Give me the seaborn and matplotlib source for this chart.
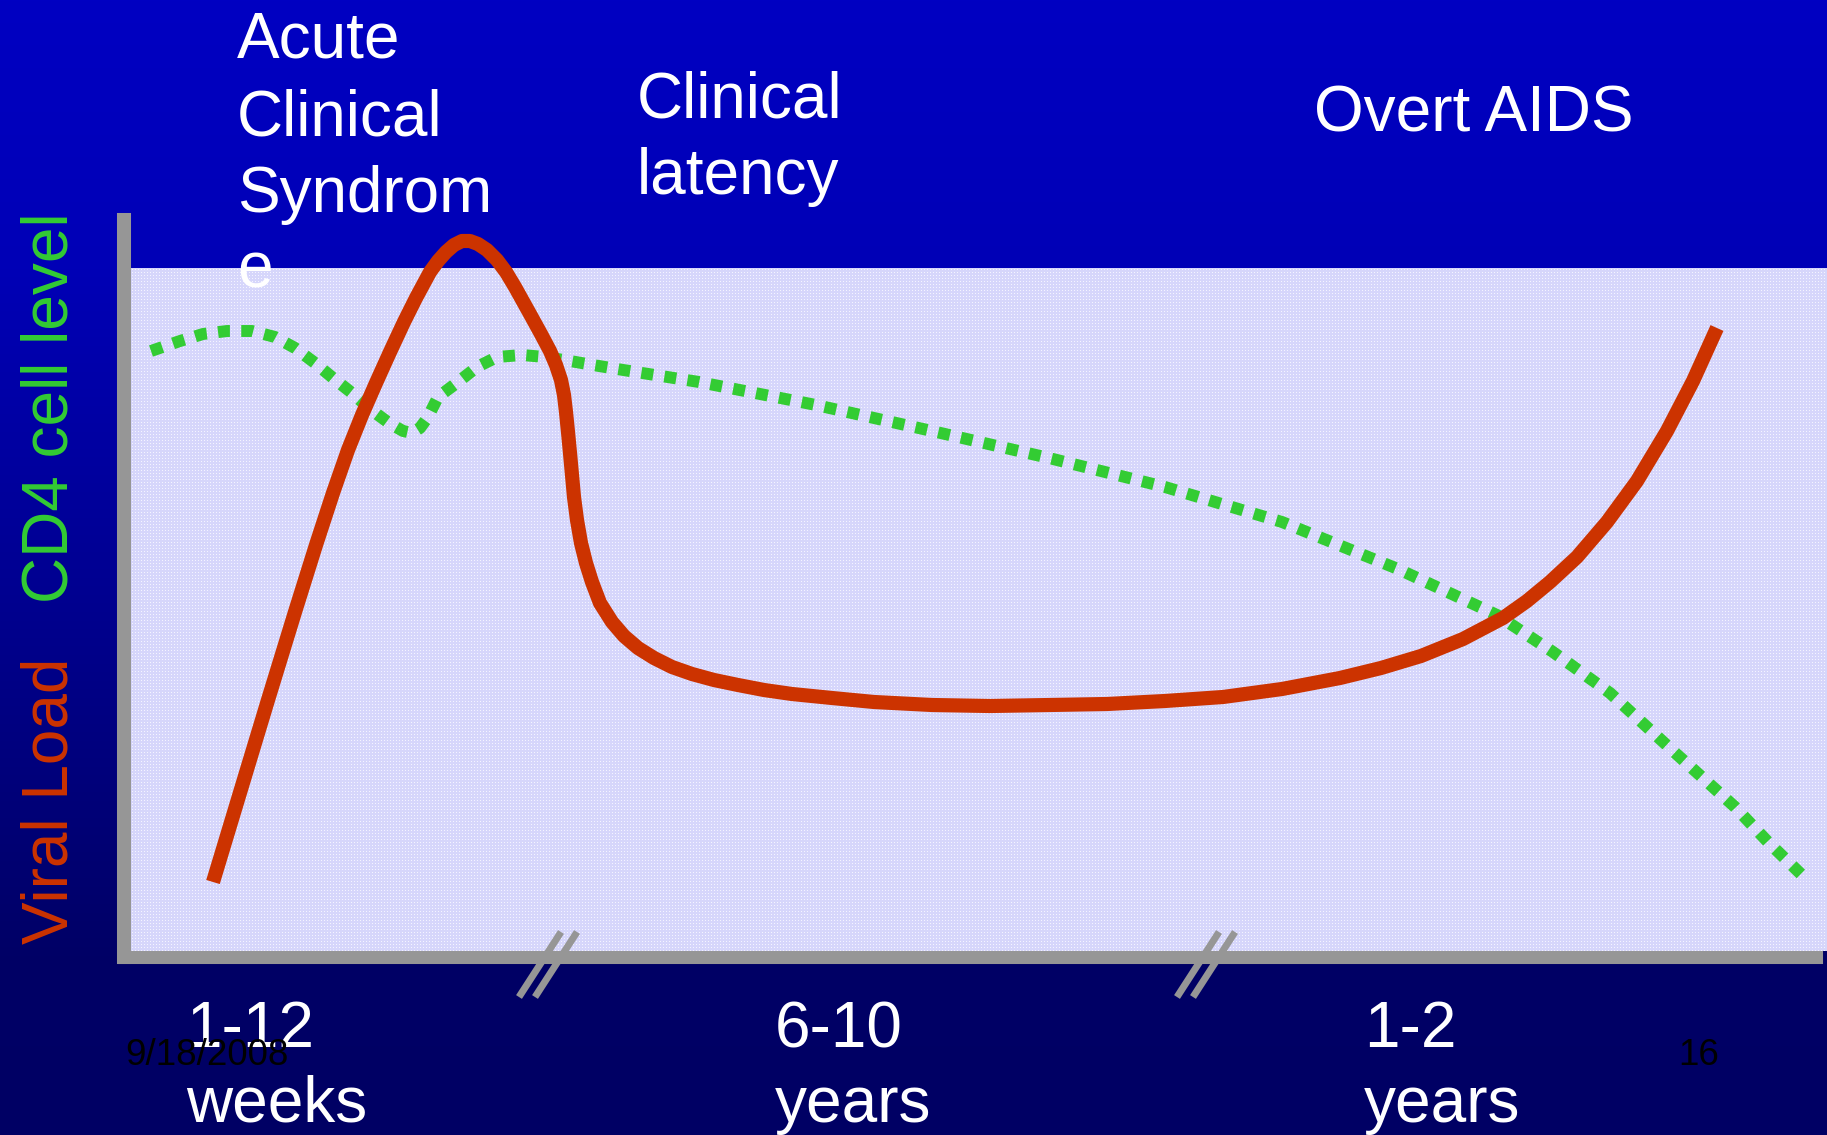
import numpy as np
import pandas as pd
import matplotlib
matplotlib.use("Agg")
import matplotlib.pyplot as plt
import seaborn as sns

W, H, DPI = 1827, 1135, 100

# ---- data (time in arbitrary units, levels in relative units) ----
viral_time = [8.9, 11.8, 14.4, 17.1, 19.2, 20.9, 22.4, 23.8, 25.2, 26.6, 28.0, 29.2,
              30.6, 31.4, 32.2, 33.0, 33.8, 34.6, 35.4, 36.3, 37.3, 38.2, 39.1, 40.6,
              41.7, 42.6, 43.2, 43.7, 44.0, 44.2, 44.4, 44.6, 44.8, 45.0, 45.3, 45.7,
              46.2, 46.8, 47.6, 48.8, 50.0, 51.4, 53.0, 54.8, 56.8, 59.0, 61.4, 64.0,
              66.8, 70.8, 75.0, 80.8, 86.6, 92.6, 98.3, 104.1, 109.9, 115.8, 121.6,
              125.7, 129.7, 133.9, 137.9, 140.3, 142.6, 145.3, 148.3, 151.3, 154.3,
              156.9, 159.3]
viral_level = [7.45, 17.05, 25.65, 34.45, 41.15, 46.35, 50.65, 54.15, 57.35, 60.45, 63.45, 65.85,
               68.45, 69.55, 70.45, 71.15, 71.55, 71.55, 71.25, 70.65, 69.65, 68.45, 66.95, 64.25,
               62.25, 60.55, 59.15, 57.65, 56.15, 54.45, 52.45, 50.35, 48.15, 45.95, 43.65, 41.35,
               39.35, 37.45, 35.35, 33.45, 32.05, 30.85, 29.85, 28.95, 28.25, 27.65, 27.15, 26.65,
               26.25, 25.85, 25.45, 25.15, 25.05, 25.15, 25.25, 25.55, 25.95, 26.75, 27.85,
               28.85, 30.05, 31.75, 33.85, 35.55, 37.45, 39.95, 43.45, 47.55, 52.55,
               57.55, 62.85]

cd4_time = [2.7, 5.6, 7.9, 10.3, 12.8, 15.1, 17.1, 19.1, 20.9, 22.8, 24.6, 26.5, 27.9, 28.8,
            29.6, 30.4, 31.4, 33.4, 35.3, 37.3, 39.8, 42.1, 44.6, 46.9, 49.3, 57.5, 69.2,
            80.8, 92.5, 104.1, 115.8, 127.4, 137.3, 142.9, 146.8, 148.6, 154.8, 161.1,
            164.4, 168.1]
cd4_level = [60.55, 61.55, 62.25, 62.55, 62.55, 61.95, 60.85, 59.35, 57.85, 56.35, 54.75, 53.35,
             52.55, 52.35, 52.85, 53.95, 55.95, 57.45, 58.95, 59.95, 60.15, 59.95, 59.55, 59.15,
             58.75, 57.45, 55.15, 52.55, 49.85, 46.95, 43.45, 38.75, 34.15, 30.45, 27.65,
             26.35, 20.65, 14.95, 11.45, 7.85]

phase_titles = [["Acute", "Clinical", "Syndrom", "e"], ["Clinical", "latency"], ["Overt AIDS"]]
period_labels = [["1-12", "weeks"], ["6-10", "years"], ["1-2", "years"]]
axis_breaks = [42.4, 108.2]
date_text = "9/18/2008"
page_text = "16"

VIRAL_COLOR = "#CC3300"
CD4_COLOR = "#33CC33"
AXIS_GRAY = "#969696"

sns.set_style("white")
plt.rcParams["font.family"] = ["Liberation Sans", "DejaVu Sans"]

fig = plt.figure(figsize=(W / DPI, H / DPI), dpi=DPI)


def fx(px):
    return px / W


def fy(py):
    return 1 - py / H


# ---- slide background: vertical blue gradient with a light dotted panel ----
rows = np.arange(H)
blue = np.interp(rows, [0, 268, 955, H], [194, 182, 102, 100]) / 255.0
bg = np.zeros((H, W, 3))
bg[..., 2] = blue[:, None]
p_top, p_bot, p_left = 268, 951, 131
ph, pw = p_bot - p_top, W - p_left
panel = np.empty((ph, pw, 3))
panel[:] = np.array([214, 214, 251]) / 255.0
yy, xx = np.mgrid[0:ph, 0:pw]
panel[(yy % 3 == 1) & (xx % 3 == 1)] = np.array([244, 244, 255]) / 255.0
bg[p_top:p_bot, p_left:] = panel
fig.figimage(bg, xo=0, yo=0, origin="upper", zorder=-5)

# ---- chart axes ----
ax = fig.add_axes([fx(124), fy(956.5), (1816 - 124) / W, 736.5 / H])
ax.patch.set_visible(False)
ax.set_xlim(0, 169.2)
ax.set_ylim(0, 73.65)
ax.set_xticks([])
ax.set_yticks([])
for side in ("top", "right"):
    ax.spines[side].set_visible(False)
ax.spines["left"].set_color(AXIS_GRAY)
ax.spines["left"].set_linewidth(10.1)
ax.spines["bottom"].set_color(AXIS_GRAY)
ax.spines["bottom"].set_linewidth(9.4)

viral = pd.DataFrame({"time": viral_time, "level": viral_level})
cd4 = pd.DataFrame({"time": cd4_time, "level": cd4_level})

sns.lineplot(data=cd4, x="time", y="level", ax=ax, sort=False, color=CD4_COLOR,
             linewidth=8.6, linestyle=(0, (1, 0.95)), dash_capstyle="butt",
             dash_joinstyle="round", clip_on=False, zorder=3)
sns.lineplot(data=viral, x="time", y="level", ax=ax, sort=False, color=VIRAL_COLOR,
             linewidth=10.2, solid_capstyle="butt", solid_joinstyle="round",
             clip_on=False, zorder=4)
ax.set_xlabel("")
ax.set_ylabel("")

# axis break marks (double slashes across the time axis)
for bx in axis_breaks:
    for off in (-0.8, 0.8):
        ax.plot([bx + off - 2.1, bx + off + 2.1], [-4.05, 2.45], color=AXIS_GRAY,
                linewidth=5, solid_capstyle="butt", clip_on=False, zorder=5)

# ---- text ----
BIG = 46
title_pos = [(237, [58, 135, 212, 288]), (637, [118, 194]), (1314, [131])]
for lines, (x, ys) in zip(phase_titles, title_pos):
    for line, y in zip(lines, ys):
        fig.text(fx(x), fy(y), line, color="white", fontsize=BIG, ha="left", va="baseline",
                 zorder=10)

period_pos = [186, 775, 1364]
for lines, x in zip(period_labels, period_pos):
    for line, y in zip(lines, [1047, 1122]):
        fig.text(fx(x), fy(y), line, color="white", fontsize=BIG, ha="left", va="baseline",
                 zorder=10)

fig.text(fx(125), fy(1065), date_text, color="black", fontsize=26.5, ha="left",
         va="baseline", zorder=11)
fig.text(fx(1678), fy(1065), page_text, color="black", fontsize=26.5, ha="left",
         va="baseline", zorder=11)

fig.text(fx(68), fy(944), "Viral Load", color=VIRAL_COLOR, fontsize=BIG, rotation=90,
         rotation_mode="anchor", ha="left", va="baseline", zorder=10)
fig.text(fx(68), fy(603), "CD4 cell level", color=CD4_COLOR, fontsize=BIG, rotation=90,
         rotation_mode="anchor", ha="left", va="baseline", zorder=10)

fig.savefig("out.png", dpi=DPI)
